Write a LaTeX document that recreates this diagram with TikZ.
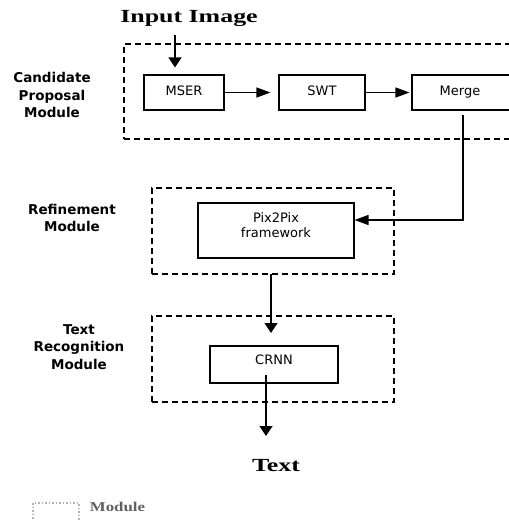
\documentclass[tikz,border=0pt]{standalone}
\usepackage{fontspec}
\setmainfont{DejaVu Sans}
\newfontfamily\serifface{Liberation Serif}
\usetikzlibrary{arrows.meta}
\begin{document}
\begin{tikzpicture}[x=1pt,y=-1pt,
  box/.style={draw, line width=1.1pt, inner sep=0pt},
  boxtext/.style={font=\fontsize{13}{15}\selectfont, align=center, inner sep=0pt},
  module/.style={draw, line width=1.4pt, dash pattern=on 6pt off 4pt, inner sep=0pt},
  flowv/.style={line width=1.3pt, -{Triangle[length=10pt,width=13pt]}},
  flowh/.style={line width=1.3pt, -{Triangle[length=14pt,width=10pt]}},
  modlabel/.style={font=\bfseries\fontsize{13.5}{17.5}\selectfont, align=center},
  title/.style={font=\serifface\bfseries\fontsize{18.5}{22}\selectfont, inner sep=0pt},
]
\clip (0,0) rectangle (509,520);
\fill[white] (0,0) rectangle (509,520);

% titles
\node[title] (inp) at (189,18) {\scalebox{1.4}[1]{Input Image}};
\node[title] (out) at (276,466) {\scalebox{1.4}[1]{Text}};

% module frames
\node[module, minimum width=406pt, minimum height=95pt] (candmod) at (327,91.5) {};
\node[module, minimum width=242pt, minimum height=86pt] (refmod) at (273,231) {};
\node[module, minimum width=242pt, minimum height=86pt] (recmod) at (273,359) {};

% module names
\node[modlabel] (candlbl) at (52,95) {Candidate\\Proposal\\Module};
\node[modlabel] (reflbl) at (72,218) {Refinement\\Module};
\node[modlabel] (reclbl) at (79,347) {Text\\Recognition\\Module};

% processing blocks
\node[box, minimum width=80pt, minimum height=35pt] (mser) at (184,92.5) {};
\node[boxtext] (msert) at (184,91) {MSER};
\node[box, minimum width=86pt, minimum height=35pt] (swt) at (322,92.5) {};
\node[boxtext] (swtt) at (322,91) {SWT};
\node[box, minimum width=100pt, minimum height=35pt] (merge) at (462,92.5) {};
\node[boxtext] (merget) at (460,92.5) {Merge};
\node[box, minimum width=156pt, minimum height=55pt] (pix) at (276,230.5) {};
\node[boxtext] (pixt) at (276,225.5) {Pix2Pix\\framework};
\node[box, minimum width=128pt, minimum height=37pt] (crnn) at (274,364.5) {};
\node[boxtext] (crnnt) at (274,360) {CRNN};

% connectors
\coordinate (inA) at (175,35);
\draw[flowv, shorten >=7pt] (inA) -- (inA |- mser.north);
\draw[flowh, shorten >=8pt] (mser) -- (swt);
\draw[flowh, shorten >=2pt] (swt) -- (merge);
\coordinate (mg) at (463,115);
\coordinate (mgturn) at (463,220);
\draw[flowh] (mg) -- (mgturn) -- (mgturn -| pix.east);
\coordinate (refout) at (271,274);
\coordinate (recin) at (271,333);
\draw[flowv] (refout) -- (recin);
\coordinate (crnnout) at (266,375);
\coordinate (textin) at (266,436);
\draw[flowv] (crnnout) -- (textin);

% legend
\draw[gray!60, line width=1.3pt, dash pattern=on 1.5pt off 2pt] (33,503) rectangle (79,525);
\node[font=\serifface\bfseries\fontsize{13.5}{16}\selectfont, text=gray!75!black, inner sep=0pt] (legtxt) at (117.5,507) {\scalebox{1.25}[1]{Module}};
\end{tikzpicture}
\end{document}
